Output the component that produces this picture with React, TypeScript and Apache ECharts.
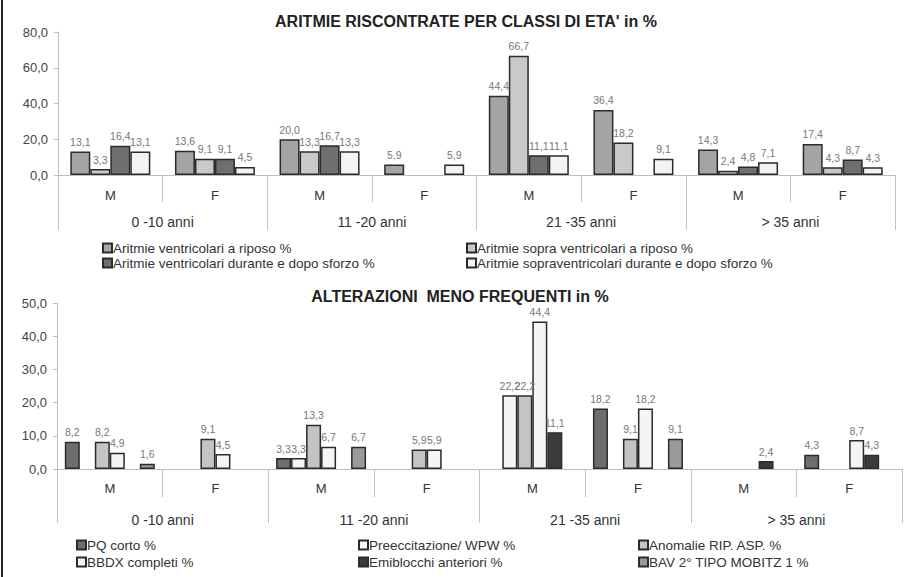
import React, { useEffect, useRef } from "react";
import * as echarts from "echarts";

const subCats = ["M", "F", "M", "F", "M", "F", "M", "F"];
const groups = ["0 -10 anni", "11 -20 anni", "21 -35 anni", "> 35 anni"];

// Top chart: ARITMIE
const topNames = [
  "Aritmie ventricolari a riposo %",
  "Aritmie sopra ventricolari a riposo %",
  "Aritmie ventricolari durante e dopo sforzo %",
  "Aritmie sopraventricolari durante e dopo sforzo %",
];
const ventRiposo = [13.1, 13.6, 20.0, 5.9, 44.4, 36.4, 14.3, 17.4];
const sopraRiposo = [3.3, 9.1, 13.3, null, 66.7, 18.2, 2.4, 4.3];
const ventSforzo = [16.4, 9.1, 16.7, null, 11.1, null, 4.8, 8.7];
const sopraSforzo = [13.1, 4.5, 13.3, 5.9, 11.1, 9.1, 7.1, 4.3];
const topColors = ["#a4a4a4", "#c9c9c9", "#6f6f6f", "#f3f3f3"];

// Bottom chart: ALTERAZIONI
const botNames = [
  "PQ corto %",
  "Preeccitazione/ WPW %",
  "Anomalie RIP. ASP. %",
  "BBDX completi %",
  "Emiblocchi anteriori %",
  "BAV 2° TIPO MOBITZ 1 %",
];
const pqCorto = [8.2, null, 3.3, null, null, 18.2, null, 4.3];
const wpw = [null, null, 3.3, null, 22.2, null, null, null];
const anomalie = [8.2, 9.1, 13.3, 5.9, 22.2, 9.1, null, null];
const bbdx = [4.9, 4.5, 6.7, 5.9, 44.4, 18.2, null, 8.7];
const emiblocchi = [null, null, null, null, 11.1, null, 2.4, 4.3];
const bav = [1.6, null, 6.7, null, null, 9.1, null, null];
const botColors = ["#6e6e6e", "#f5f5f5", "#c4c4c4", "#f5f5f5", "#3c3c3c", "#9a9a9a"];

const FONT = "Liberation Sans, Arial, sans-serif";
const fmt = (v: number) => v.toFixed(1).replace(".", ",");

export default function App() {
  const ref = useRef<HTMLDivElement>(null);
  useEffect(() => {
    document.body.style.margin = "0";
    const chart = echarts.init(ref.current!, null, { renderer: "svg" });

    const mkX = (grid: number, tickLen: number, grpTick: number, lblM: number, grpM: number) => [
      {
        type: "category",
        gridIndex: grid,
        data: subCats,
        axisLine: { lineStyle: { color: "#bdbdbd", width: 1 } },
        axisTick: { show: true, length: tickLen, interval: 0, lineStyle: { color: "#c4c4c4" } },
        axisLabel: { interval: 0, margin: lblM, fontSize: 13, color: "#333", fontFamily: FONT },
      },
      {
        type: "category",
        gridIndex: grid,
        data: groups,
        position: "bottom",
        axisLine: { show: false },
        axisTick: { show: true, length: grpTick, interval: 0, lineStyle: { color: "#c4c4c4" } },
        axisLabel: { interval: 0, margin: grpM, fontSize: 14, color: "#333", fontFamily: FONT },
      },
    ];

    const mkY = (grid: number, max: number, interval: number) => ({
      type: "value",
      gridIndex: grid,
      min: 0,
      max,
      interval,
      axisLine: { show: true, lineStyle: { color: "#bdbdbd" } },
      axisTick: { show: true, length: 4, lineStyle: { color: "#bdbdbd" } },
      splitLine: { show: false },
      axisLabel: {
        formatter: (v: number) => fmt(v),
        fontSize: 13,
        color: "#444",
        margin: 10,
        fontFamily: FONT,
      },
    });

    const mkSeries = (name: string, data: (number | null)[], color: string, xIdx: number, yIdx: number, bw: number) => ({
      type: "bar",
      name,
      data,
      xAxisIndex: xIdx,
      yAxisIndex: yIdx,
      barWidth: bw,
      barGap: "0%",
      itemStyle: { color, borderColor: "#2b2b2b", borderWidth: 1.5 },
      label: {
        show: true,
        position: "top",
        distance: 4,
        fontSize: 10.5,
        color: "#777777",
        fontFamily: FONT,
        formatter: (p: any) => (p.value == null ? "" : fmt(p.value)),
      },
    });

    const topData = [ventRiposo, sopraRiposo, ventSforzo, sopraSforzo];
    const botData = [pqCorto, wpw, anomalie, bbdx, emiblocchi, bav];

    const legendBase = {
      orient: "vertical",
      itemWidth: 9,
      itemHeight: 9,
      itemGap: 1,
      icon: "rect",
      textStyle: { fontSize: 13.5, lineHeight: 13, color: "#333", fontFamily: FONT, padding: [0, 0, 0, -4] },
      padding: 0,
    };

    chart.setOption({
      animation: false,
      textStyle: { fontFamily: FONT },
      title: [
        {
          text: "ARITMIE RISCONTRATE PER CLASSI DI ETA' in %",
          left: 461,
          textAlign: "center",
          top: 8,
          textStyle: { fontSize: 16, fontWeight: "bold", color: "#222", fontFamily: FONT },
        },
        {
          text: "ALTERAZIONI  MENO FREQUENTI in %",
          left: 455,
          textAlign: "center",
          top: 283,
          textStyle: { fontSize: 16, fontWeight: "bold", color: "#222", fontFamily: FONT },
        },
      ],
      grid: [
        { left: 58, right: 19, top: 32, height: 143 },
        { left: 57, right: 12, top: 303, height: 166 },
      ],
      xAxis: [...mkX(0, 27, 55, 14, 40), ...mkX(1, 28, 54, 13, 44)],
      yAxis: [mkY(0, 80, 20), mkY(1, 50, 10)],
      legend: [
        { ...legendBase, left: 102, top: 241, data: [topNames[0], topNames[2]] },
        { ...legendBase, left: 466, top: 241, data: [topNames[1], topNames[3]] },
        { ...legendBase, left: 76, top: 538, itemGap: 3, data: [botNames[0], botNames[3]] },
        { ...legendBase, left: 358, top: 538, itemGap: 3, data: [botNames[1], botNames[4]] },
        { ...legendBase, left: 638, top: 538, itemGap: 3, data: [botNames[2], botNames[5]] },
      ],
      series: [
        ...topData.map((d, i) => mkSeries(topNames[i], d, topColors[i], 0, 0, 20)),
        ...botData.map((d, i) => mkSeries(botNames[i], d, botColors[i], 2, 1, 15)),
      ],
      graphic: [
        {
          type: "line",
          shape: { x1: 2, y1: 0, x2: 2, y2: 577 },
          style: { stroke: "#222", lineWidth: 2 },
        },
      ],
    });
    return () => chart.dispose();
  }, []);
  return <div ref={ref} style={{ width: 914, height: 577 }} />;
}
